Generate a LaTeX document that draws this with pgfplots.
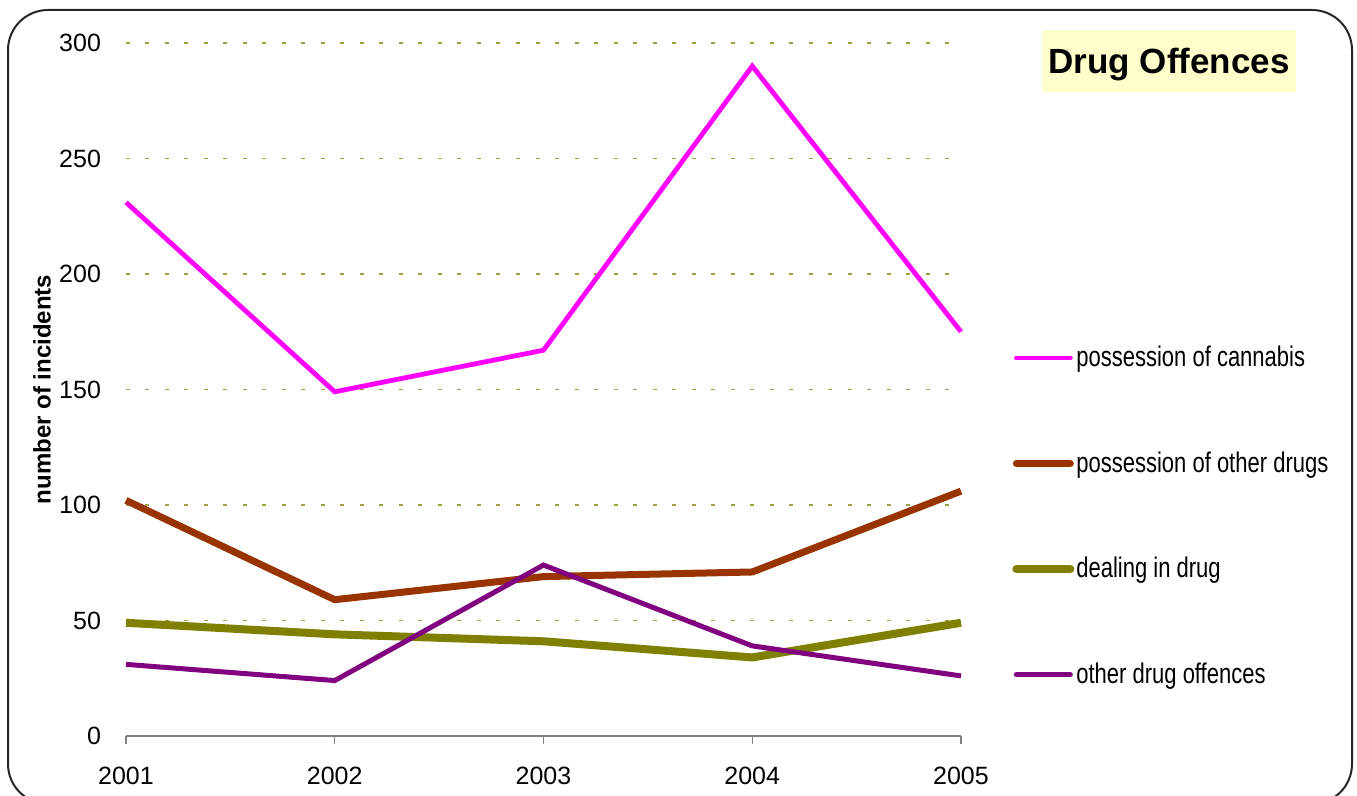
\documentclass[border=0pt]{standalone}
\usepackage{fontspec}
\setmainfont{Liberation Sans}
\newfontfamily\legfont[FakeStretch=0.775]{Liberation Sans}
\usepackage{pgfplots}
\pgfplotsset{compat=1.18}

\definecolor{cannabis}{HTML}{FF00FF}
\definecolor{otherdrugs}{HTML}{993300}
\definecolor{dealing}{HTML}{808000}
\definecolor{otheroff}{HTML}{800080}
\definecolor{gridc}{HTML}{A0A040}
\definecolor{titlebg}{HTML}{FFFFCC}

\begin{document}
\begin{tikzpicture}
\path[use as bounding box] (0pt,0pt) rectangle (678.5pt,398pt);
\draw[black!85, line width=1pt, rounded corners=20pt] (4pt,-4pt) rectangle (676pt,393pt);

\begin{axis}[
  scale only axis, width=417.5pt, height=346.5pt,
  at={(63pt,30pt)}, anchor=south west,
  xmin=2001, xmax=2005, ymin=0, ymax=300,
  xtick={2001,2002,2003,2004,2005},
  ytick={0,50,100,150,200,250,300},
  axis x line*=bottom, axis y line*=left,
  y axis line style={draw=none},
  x axis line style={gray, line width=0.75pt},
  ytick style={draw=none},
  xtick style={gray, line width=0.75pt},
  tick align=outside, major tick length=4pt,
  ymajorgrids,
  grid style={gridc, line width=0.6pt, dash pattern=on 2pt off 7.75pt},
  /pgf/number format/assume math mode=true,
  /pgf/number format/1000 sep={},
  tick label style={font=\fontsize{12.5}{14}\selectfont},
  yticklabel style={xshift=-5pt},
  xticklabel style={yshift=-8pt},
  ylabel={number of incidents},
  every axis y label/.style={at={(axis description cs:-0.1006,0.5)}, rotate=90,
    anchor=center, font=\bfseries\fontsize{12}{14}\selectfont},
  clip=false,
  legend style={draw=none, fill=none, at={(axis description cs:1.061,0.566)},
    anchor=north west, inner sep=0pt, row sep=39pt,
    nodes={inner sep=1pt}, font=\legfont\fontsize{14.2}{16}\selectfont},
  legend cell align=left,
  legend image code/.code={\draw[#1, line cap=round] (0pt,0pt) -- (27pt,0pt);},
]
\addplot[cannabis, line width=2.4pt] coordinates {(2001,231) (2002,149) (2003,167) (2004,290) (2005,175)};
\addlegendentry{possession of cannabis}
\addplot[otherdrugs, line width=3.5pt] coordinates {(2001,102) (2002,59) (2003,69) (2004,71) (2005,106)};
\addlegendentry{possession of other drugs}
\addplot[dealing, line width=4pt] coordinates {(2001,49) (2002,44) (2003,41) (2004,34) (2005,49)};
\addlegendentry{dealing in drug}
\addplot[otheroff, line width=2.5pt] coordinates {(2001,31) (2002,24) (2003,74) (2004,39) (2005,26)};
\addlegendentry{other drug offences}
\end{axis}

\fill[titlebg] (521pt,352pt) rectangle (648pt,383pt);
\node[inner sep=0pt, font=\bfseries\fontsize{17.5}{20}\selectfont] at (584.5pt,365.5pt) {Drug Offences};
\end{tikzpicture}
\end{document}
